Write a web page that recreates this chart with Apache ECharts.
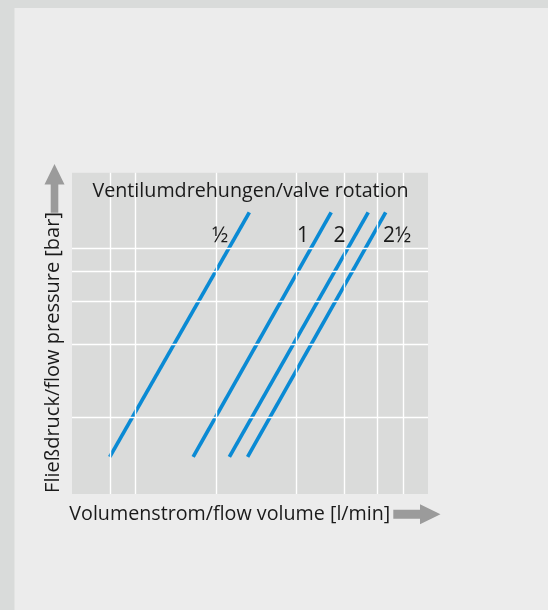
<!DOCTYPE html>
<html><head><meta charset="utf-8">
<script src="https://cdn.jsdelivr.net/npm/echarts@6/dist/echarts.min.js"></script>
<style>html,body{margin:0;padding:0;background:#ececec;}#c{width:548px;height:610px;}</style>
</head><body><div id="c"></div>
<script>
// Data (log-log diagram, no tick labels shown)
const rotationLabels = ['½', '1', '2', '2½'];
const flowStart = [4.0, 8.2, 11.2, 13.1];      // l/min at lower end
const flowEnd = [13.3, 26.9, 37.0, 43.0];      // l/min at upper end
const pressureStart = [0.69, 0.69, 0.69, 0.69]; // bar
const pressureEnd = [7.0, 7.0, 7.0, 7.0];       // bar
const xGridValues = [4, 5, 10, 20, 30, 40, 50];
const yGridValues = [1, 2, 3, 4, 5];
const xRange = [2.89, 61.9];
const yRange = [0.485, 10.19];

const FONT = 'Open Sans';
const LINE = '#0a8ad4';
const chart = echarts.init(document.getElementById('c'), null, {renderer: 'canvas'});

const lineSeries = rotationLabels.map((name, i) => ({
  type: 'line', name: name, z: 3,
  data: [[flowStart[i], pressureStart[i]], [flowEnd[i], pressureEnd[i]]],
  showSymbol: false, symbol: 'none', silent: true,
  lineStyle: {color: LINE, width: 3.7, cap: 'butt'},
  animation: false
}));

const gridSeries = {
  type: 'line', z: 1, silent: true, animation: false,
  data: [[xRange[0], yRange[0]]], symbol: 'none',
  lineStyle: {opacity: 0},
  markLine: {
    silent: true, symbol: ['none', 'none'], animation: false,
    label: {show: false},
    lineStyle: {color: '#ffffff', width: 1.4, type: 'solid'},
    emphasis: {disabled: true},
    data: xGridValues.map(v => ({xAxis: v})).concat(yGridValues.map(v => ({yAxis: v})))
  }
};

// label positions (pixels) for the valve rotation numbers
const labelPos = [[220, 236], [303, 236], [339.5, 236], [397, 236]];

chart.setOption({
  backgroundColor: '#ececec',
  animation: false,
  grid: {left: 72, right: 120, top: 172.7, bottom: 116, show: true,
         backgroundColor: '#dadbda', borderWidth: 0, containLabel: false},
  xAxis: {type: 'log', logBase: 10, min: xRange[0], max: xRange[1],
          axisLine: {show: false}, axisTick: {show: false}, axisLabel: {show: false},
          splitLine: {show: false}, minorSplitLine: {show: false}},
  yAxis: {type: 'log', logBase: 10, min: yRange[0], max: yRange[1],
          axisLine: {show: false}, axisTick: {show: false}, axisLabel: {show: false},
          splitLine: {show: false}, minorSplitLine: {show: false}},
  series: [gridSeries].concat(lineSeries),
  graphic: [
    {type: 'rect', silent: true, z: -10, shape: {x: 0, y: 0, width: 548, height: 8}, style: {fill: '#d9dbda'}},
    {type: 'rect', silent: true, z: -10, shape: {x: 0, y: 0, width: 14.5, height: 610}, style: {fill: '#d9dbda'}},
    {type: 'text', silent: true, z: 10, x: 250.5, y: 191,
     style: {text: 'Ventilumdrehungen/valve rotation', font: '19.7px "' + FONT + '"', fill: '#1a1a1a', align: 'center', verticalAlign: 'middle'}},
    ...rotationLabels.map((t, i) => ({type: 'text', silent: true, z: 10, x: labelPos[i][0], y: labelPos[i][1],
     style: {text: t, font: '21px "' + FONT + '"', fill: '#1a1a1a', align: 'center', verticalAlign: 'middle'}})),
    {type: 'text', silent: true, z: 10, x: 69.3, y: 514,
     style: {text: 'Volumenstrom/flow volume [l/min]', font: '19.7px "' + FONT + '"', fill: '#1a1a1a', align: 'left', verticalAlign: 'middle'}},
    {type: 'text', silent: true, z: 10, x: 53.5, y: 352.5, rotation: Math.PI / 2,
     style: {text: 'Fließdruck/flow pressure [bar]', font: '20px "' + FONT + '"', fill: '#1a1a1a', align: 'center', verticalAlign: 'middle'}},
    {type: 'polygon', silent: true, z: 10,
     shape: {points: [[54.5, 164], [64.5, 184.5], [58.3, 184.5], [58.3, 212.7], [50.7, 212.7], [50.7, 184.5], [44.5, 184.5]]},
     style: {fill: '#9b9b9b'}},
    {type: 'polygon', silent: true, z: 10,
     shape: {points: [[393.3, 509.8], [420, 509.8], [420, 504.3], [440.5, 514.3], [420, 524.3], [420, 518.7], [393.3, 518.7]]},
     style: {fill: '#9b9b9b'}}
  ]
});
</script></body></html>
